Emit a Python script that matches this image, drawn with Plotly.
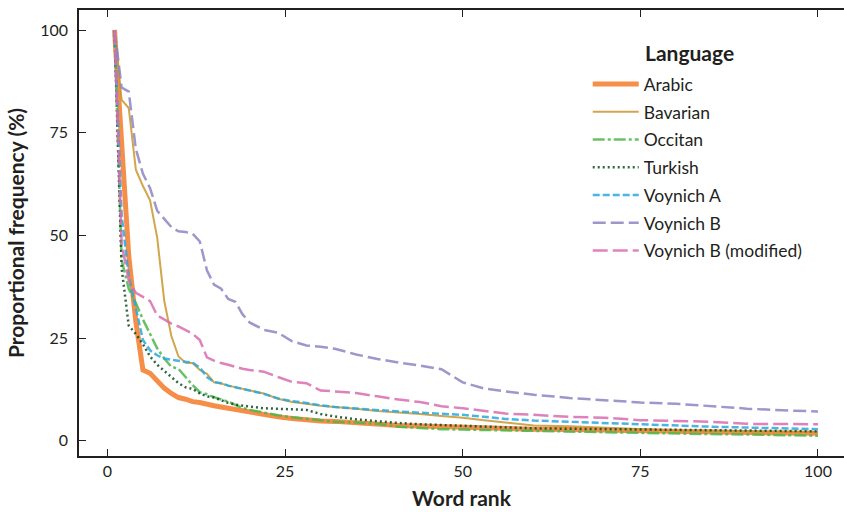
import plotly.graph_objects as go

ranks = list(range(1, 21)) + [22, 24, 26, 28, 30, 32, 35, 38, 41, 44, 47, 50, 53, 56,
                              60, 65, 70, 75, 80, 85, 90, 95, 100]

arabic = [100, 70, 45, 29, 17.2, 16.4, 14.5, 12.8, 11.5, 10.5, 10.1, 9.5, 9.3, 8.8, 8.5,
          8.2, 7.9, 7.5, 7.1, 6.8, 6.2, 5.8, 5.4, 5.0, 4.8, 4.7, 4.3, 4.0, 3.7, 3.6, 3.4,
          3.3, 3.1, 2.9, 2.8, 2.7, 2.5, 2.4, 2.3, 2.1, 2.0, 1.9, 1.8]
bavarian = [100, 83, 81, 66, 62, 58.5, 49.5, 34, 25.5, 20.5, 19, 18.9, 17.2, 16.3, 14.2,
            13.9, 13.4, 13, 12.6, 12.2, 11.5, 10.2, 9.4, 9.0, 8.5, 8.2, 7.8, 7.2, 6.9, 6.5,
            6.0, 5.6, 5.0, 4.5, 3.7, 3.5, 3.2, 2.8, 2.5, 2.4, 2.3, 2.2, 2.1]
occitan = [100, 44, 37, 33.5, 29.5, 26, 22.5, 20, 18, 17.5, 15.5, 13.5, 11.8, 11.3, 10.6,
           10, 9.5, 8.7, 8, 7.5, 6.8, 6.2, 5.7, 5.3, 4.9, 4.6, 4.4, 4.1, 3.4, 3.1, 2.8,
           2.7, 2.6, 2.5, 2.4, 2.3, 2.1, 1.8, 1.7, 1.6, 1.5, 1.3, 1.2]
turkish = [100, 42, 28, 26, 23.5, 20.5, 18.5, 17, 15.5, 14, 13, 12.6, 11.5, 10.8, 10.5,
           9.8, 9.2, 8.8, 8.5, 8.3, 7.9, 7.8, 7.7, 7.5, 6.5, 5.9, 5.2, 4.7, 4.3, 4.0, 3.8,
           3.5, 3.3, 3.1, 3.0, 2.9, 2.8, 2.7, 2.6, 2.5, 2.4, 2.3, 2.3]
voynich_a = [100, 55, 40, 32, 24.5, 22, 20.8, 20, 19.7, 19.4, 19.2, 19, 17.8, 15.5, 14.3,
             14, 13.4, 13, 12.6, 12.2, 11.4, 10.3, 9.6, 9.2, 8.6, 8.2, 7.8, 7.4, 7.1, 6.8,
             6.6, 6.3, 5.8, 5.3, 4.9, 4.6, 4.2, 3.9, 3.6, 3.4, 3.2, 3.0, 2.8]
voynich_b = [100, 86, 85, 71, 65, 61.5, 56, 54, 52, 51, 50.8, 50.4, 48.5, 41.5, 38, 37,
             34.5, 33.8, 30.8, 28.8, 27, 26.3, 24.2, 23.2, 22.9, 22.4, 21, 19.9, 19, 18.3,
             17.4, 14.2, 12.7, 12.0, 11.2, 10.4, 9.8, 9.3, 9.0, 8.4, 7.8, 7.4, 7.1]
voynich_b_mod = [100, 48, 39, 36, 35, 34, 30.5, 29.5, 28.5, 27.8, 26.8, 26, 24.5, 20.3,
                 19.5, 18.9, 18.5, 18, 17.5, 17.2, 16.8, 15.5, 14.3, 14, 12.2, 12, 11.6,
                 10.8, 10, 9.4, 8.4, 7.9, 7.3, 6.6, 6.3, 5.8, 5.6, 5.0, 4.8, 4.6, 4.1, 4.0,
                 4.0]

x_ticks = [0, 25, 50, 75, 100]
y_ticks = [0, 25, 50, 75, 100]

series = [
    ("Arabic", arabic, "#F47B2A", 5, "solid"),
    ("Bavarian", bavarian, "#C9972D", 2, "solid"),
    ("Occitan", occitan, "#4DB749", 2.5, "12px,3px,3px,3px"),
    ("Turkish", turkish, "#0B4B24", 2.5, "2px,3px"),
    ("Voynich A", voynich_a, "#29A9E0", 2.5, "7px,3px"),
    ("Voynich B", voynich_b, "#8C85C4", 2.5, "13px,5px"),
    ("Voynich B (modified)", voynich_b_mod, "#D96DB0", 2.5, "15px,5px"),
]

FONT = "Lato"
fig = go.Figure()
for i, (name, vals, color, width, dash) in enumerate(series):
    fig.add_trace(go.Scatter(
        x=ranks, y=vals, mode="lines", name=name,
        line=dict(color=color, width=width, dash=dash),
        opacity=0.85, legendgroup=f"g{i}",
    ))

fig.update_layout(
    width=844, height=512,
    margin=dict(l=79, r=0, t=10, b=56),
    paper_bgcolor="white", plot_bgcolor="white",
    font=dict(family=FONT, size=16, color="#231F20"),
    showlegend=True,
    legend=dict(
        x=0.665, y=0.874, xanchor="left", yanchor="top",
        bgcolor="rgba(0,0,0,0)", tracegroupgap=2,
        font=dict(family=FONT, size=17.5, color="#231F20"),
        itemwidth=46,
    ),
    annotations=[dict(
        text="<b>Language</b>", x=0.737, y=0.9036, xref="paper", yref="paper",
        xanchor="left", yanchor="middle", showarrow=False,
        font=dict(family=FONT, size=21, color="#231F20"),
    )],
    xaxis=dict(
        range=[-4, 103.66], tickvals=x_ticks, ticktext=[str(v) for v in x_ticks],
        ticks="inside", ticklen=7, tickwidth=1.2, tickcolor="#231F20",
        showline=True, linecolor="#231F20", linewidth=1.5, mirror="ticks",
        showgrid=False, zeroline=False,
        title=dict(text="<b>Word rank</b>", font=dict(family=FONT, size=21), standoff=12),
    ),
    yaxis=dict(
        range=[-3.73, 104.87], tickvals=y_ticks, ticktext=[str(v) for v in y_ticks],
        ticks="inside", ticklen=7, tickwidth=1.2, tickcolor="#231F20",
        ticklabelstandoff=6,
        showline=True, linecolor="#231F20", linewidth=1.5, mirror=False,
        showgrid=False, zeroline=False,
        title=dict(text="<b>Proportional frequency (%)</b>", font=dict(family=FONT, size=21),
                   standoff=10),
    ),
)

fig.write_html("out.html")
